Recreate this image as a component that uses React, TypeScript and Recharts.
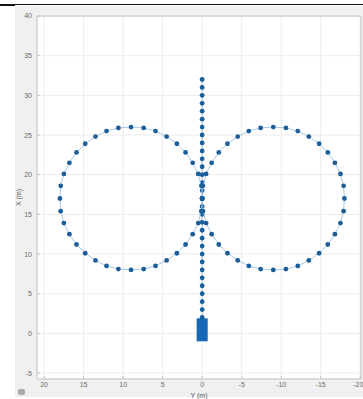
import { ScatterChart, Scatter, XAxis, YAxis, CartesianGrid, ReferenceArea, ReferenceLine } from "recharts";

// [Y (m), X (m)] pairs
const leftCircle: [number, number][] = [
  [0, 17], [0.1, 18.6], [0.5, 20.1], [1.2, 21.5], [2.1, 22.8], [3.2, 23.9],
  [4.5, 24.8], [5.9, 25.5], [7.4, 25.9], [9, 26], [10.6, 25.9], [12.1, 25.5],
  [13.5, 24.8], [14.8, 23.9], [15.9, 22.8], [16.8, 21.5], [17.5, 20.1], [17.9, 18.6],
  [18, 17], [17.9, 15.4], [17.5, 13.9], [16.8, 12.5], [15.9, 11.2], [14.8, 10.1],
  [13.5, 9.2], [12.1, 8.5], [10.6, 8.1], [9, 8], [7.4, 8.1], [5.9, 8.5],
  [4.5, 9.2], [3.2, 10.1], [2.1, 11.2], [1.2, 12.5], [0.5, 13.9], [0.1, 15.4],
];

const rightCircle: [number, number][] = [
  [0, 17], [-0.1, 18.6], [-0.5, 20.1], [-1.2, 21.5], [-2.1, 22.8], [-3.2, 23.9],
  [-4.5, 24.8], [-5.9, 25.5], [-7.4, 25.9], [-9, 26], [-10.6, 25.9], [-12.1, 25.5],
  [-13.5, 24.8], [-14.8, 23.9], [-15.9, 22.8], [-16.8, 21.5], [-17.5, 20.1], [-17.9, 18.6],
  [-18, 17], [-17.9, 15.4], [-17.5, 13.9], [-16.8, 12.5], [-15.9, 11.2], [-14.8, 10.1],
  [-13.5, 9.2], [-12.1, 8.5], [-10.6, 8.1], [-9, 8], [-7.4, 8.1], [-5.9, 8.5],
  [-4.5, 9.2], [-3.2, 10.1], [-2.1, 11.2], [-1.2, 12.5], [-0.5, 13.9], [-0.1, 15.4],
];

// straight run along Y = 0
const lineX = [2, 3, 4, 5, 6, 7, 8, 9, 10, 11, 12, 13, 14, 15, 16, 17, 18, 19, 20, 21, 22, 23, 24, 25, 26, 27, 28, 29, 30, 31, 32];

// vehicle block at the start
const vehicleY = [0.7, -0.7];
const vehicleX = [-1, 1.9];

const yTicks = [20, 15, 10, 5, 0, -5, -10, -15, -20];
const xTicks = [-5, 0, 5, 10, 15, 20, 25, 30, 35, 40];

const toPoints = (pairs: [number, number][]) => pairs.map(([y, x]) => ({ y, x }));
const closeLoop = (pairs: [number, number][]) => toPoints([...pairs, pairs[0]]);

const leftData = closeLoop(leftCircle);
const rightData = closeLoop(rightCircle);
const lineData = lineX.map((x) => ({ y: 0, x }));

const DOT = "#1b5e9a";
const TRACE = "#93bbe0";
const AXIS = "#c4c4c4";

const Dot = (p: any) => <circle cx={p.cx} cy={p.cy} r={2.4} fill={DOT} />;

const tickStyle = { fontSize: 7, fill: "#6a6a6a" };

export default function App() {
  return (
    <div style={{ position: "relative", width: 363, height: 399, background: "#fff", overflow: "hidden" }}>
      <style>{"body{margin:0}"}</style>
      <div style={{ position: "absolute", left: 15, top: 6, right: 0, bottom: 2, background: "#f0f0f0" }} />
      <div style={{ position: "absolute", left: 0, top: 4, width: 363, height: 1, background: "#111" }} />
      <div style={{ position: "absolute", left: 0, top: 4, width: 15, height: 2, background: "#111" }} />
      <div style={{ position: "absolute", left: 18, top: 389, width: 7, height: 6, borderRadius: 2, background: "#a8a8a8" }} />
      <div style={{ position: "absolute", left: 0, top: 0 }}>
        <ScatterChart
          width={363}
          height={399}
          margin={{ top: 16, right: 2, bottom: 0, left: 0 }}
          style={{ fontFamily: "'Liberation Sans', Arial, sans-serif" }}
        >
          <CartesianGrid stroke="#ececec" fill="#ffffff" />
          <XAxis
            type="number"
            dataKey="y"
            domain={[-20.1, 20.9]}
            allowDataOverflow
            reversed
            ticks={yTicks}
            height={20}
            tick={tickStyle}
            tickSize={-3}
            tickMargin={6}
            stroke={AXIS}
            label={{ value: "Y (m)", position: "insideBottom", offset: 1, fontSize: 7, fill: "#555" }}
          />
          <YAxis
            type="number"
            dataKey="x"
            domain={[-5.75, 40]}
            allowDataOverflow
            ticks={xTicks}
            width={37}
            tick={tickStyle}
            tickSize={-3}
            tickMargin={8}
            stroke={AXIS}
            label={{ value: "X (m)", position: "center", angle: -90, fontSize: 7, fill: "#555" }}
          />
          <ReferenceLine y={40} stroke={AXIS} />
          <ReferenceLine x={-20.1} stroke={AXIS} />
          <ReferenceArea
            x1={vehicleY[0]}
            x2={vehicleY[1]}
            y1={vehicleX[0]}
            y2={vehicleX[1]}
            fill="#1769b8"
            fillOpacity={1}
            stroke="none"
          />
          <Scatter data={lineData} line={{ stroke: TRACE, strokeWidth: 0.8 }} shape={Dot} isAnimationActive={false} />
          <Scatter data={leftData} line={{ stroke: TRACE, strokeWidth: 0.8 }} shape={Dot} isAnimationActive={false} />
          <Scatter data={rightData} line={{ stroke: TRACE, strokeWidth: 0.8 }} shape={Dot} isAnimationActive={false} />
        </ScatterChart>
      </div>
    </div>
  );
}
